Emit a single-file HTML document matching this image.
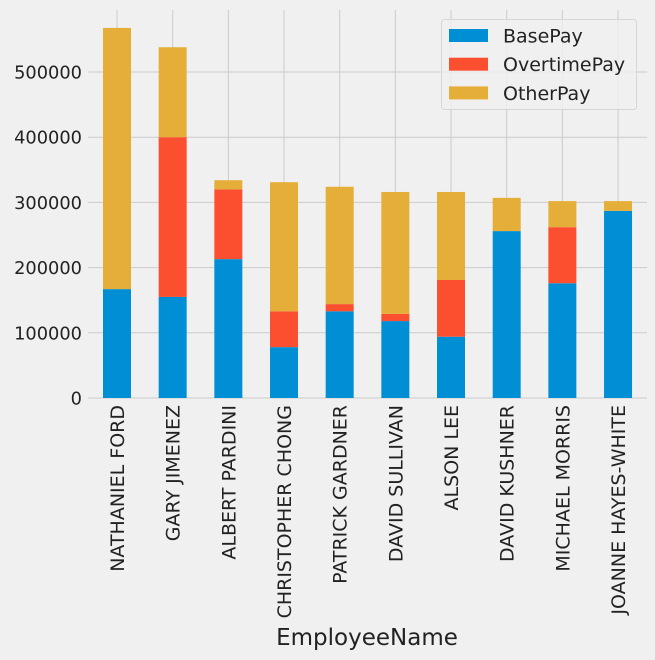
<!DOCTYPE html>
<html><head><meta charset="utf-8"><style>
html,body{margin:0;padding:0;background:#f0f0f0;}
svg{display:block;font-family:"DejaVu Sans","Liberation Sans",sans-serif;}
</style></head><body>
<svg id="chart" width="655" height="660" viewBox="0 0 655 660" xmlns="http://www.w3.org/2000/svg">
<rect x="0" y="0" width="655" height="660" fill="#f0f0f0"/>
<g id="grid"></g><g id="bars"></g><g id="axes"></g>
</svg>
<script>
const categories=["NATHANIEL FORD","GARY JIMENEZ","ALBERT PARDINI","CHRISTOPHER CHONG","PATRICK GARDNER","DAVID SULLIVAN","ALSON LEE","DAVID KUSHNER","MICHAEL MORRIS","JOANNE HAYES-WHITE"];
const basePay=[167000,155000,213000,78000,133000,118000,94000,256000,176000,287000];
const overtimePay=[0,245000,107000,55000,11000,11000,87000,0,86000,0];
const otherPay=[400600,138000,14000,198000,180000,187000,135000,51000,40000,15000];
const yTicks=[0,100000,200000,300000,400000,500000];
const seriesNames=["BasePay","OvertimePay","OtherPay"];
const colors=["#008fd5","#fc4f30","#e5ae38"];
const NS="http://www.w3.org/2000/svg";
const y0=398, pxPer=326/500000, x0=117, step=55.67, bw=28;
const Y=v=>y0-v*pxPer, X=i=>x0+i*step;
function mk(t,a,p){const e=document.createElementNS(NS,t);for(const k in a)e.setAttribute(k,a[k]);p.appendChild(e);return e;}
const grid=document.getElementById('grid'),bars=document.getElementById('bars'),axes=document.getElementById('axes');
yTicks.forEach(v=>{
 const l=mk('line',{x1:88,x2:647,y1:Y(v),y2:Y(v),stroke:'#cbcbcb','stroke-width':1},grid);
 
 
 const t=mk('text',{x:82,y:Y(v)+6.5,'text-anchor':'end','font-size':17.8,fill:'#222'},axes);t.textContent=String(v);
 
 
});
categories.forEach((c,i)=>{
 const l=mk('line',{x1:X(i),x2:X(i),y1:10,y2:398,stroke:'#cbcbcb','stroke-width':1},grid);
 
 
 const vals=[basePay[i],overtimePay[i],otherPay[i]];let acc=0;
 vals.forEach((v,s)=>{
  const r=mk('rect',{x:X(i)-bw/2,y:Y(acc+v),width:bw,height:v*pxPer,fill:colors[s]},bars);
  
  
  acc+=v;
 });
 const t=mk('text',{x:0,y:0,'text-anchor':'end','font-size':19,fill:'#222',transform:`translate(${X(i)+7},405) rotate(-90)`},axes);
 t.textContent=c;
 
 
});
const xl=mk('text',{x:367,y:645,'text-anchor':'middle','font-size':23,fill:'#222'},axes);xl.textContent="EmployeeName";


const lg=mk('g',{},axes);


mk('rect',{x:441.5,y:19.5,width:195,height:90,rx:3,fill:'#f0f0f0','fill-opacity':0.8,stroke:'#d6d6d6'},lg);
seriesNames.forEach((n,s)=>{
 const yy=29+s*28.7;
 const p=mk('rect',{x:449,y:yy,width:39,height:13,fill:colors[s]},lg);
 
 
 const t=mk('text',{x:503,y:yy+13.5,'font-size':19,fill:'#222'},lg);t.textContent=n;
 
 
});
</script>
</body></html>
